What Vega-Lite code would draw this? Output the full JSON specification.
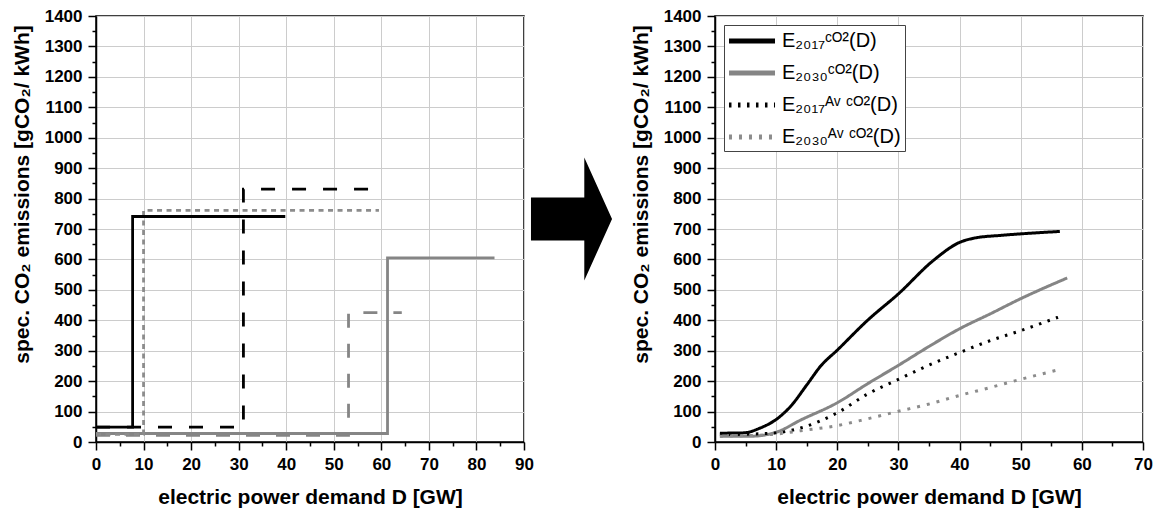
{
  "$schema": "https://vega.github.io/schema/vega-lite/v6.json",
  "padding": {"left": 10, "top": 6, "right": 0, "bottom": 0},
  "background": "white",
  "bounds": "flush",
  "spacing": 0,
  "resolve": {
    "scale": {"color": "independent", "strokeDash": "independent", "x": "independent", "y": "independent"},
    "legend": {"color": "independent", "strokeDash": "independent"}
  },
  "config": {
    "font": "Liberation Sans",
    "view": {"stroke": "black", "strokeWidth": 1.5},
    "axis": {
      "domainColor": "black", "domainWidth": 1.5,
      "tickColor": "black", "tickWidth": 1.5,
      "labelFont": "Liberation Sans", "labelFontWeight": "bold", "labelFontSize": 17, "labelColor": "black",
      "labelPadding": 6, "labelOverlap": false, "labelFlush": false,
      "titleFont": "Liberation Sans", "titleFontWeight": "bold", "titleFontSize": 21, "titleColor": "black",
      "gridColor": "#cccccc", "gridWidth": 1
    },
    "legend": {
      "labelFont": "Liberation Sans", "labelFontSize": 20, "labelColor": "black"
    }
  },
  "datasets": {
    "steps": [
      {"series": "s4", "i": 0, "D": 0, "E": 28},
      {"series": "s4", "i": 1, "D": 61.3, "E": 28},
      {"series": "s4", "i": 2, "D": 61.3, "E": 605},
      {"series": "s4", "i": 3, "D": 83.8, "E": 605},
      {"series": "s5", "i": 0, "D": 0, "E": 22},
      {"series": "s5", "i": 1, "D": 53.1, "E": 22},
      {"series": "s5", "i": 2, "D": 53.1, "E": 425},
      {"series": "s5", "i": 3, "D": 64.3, "E": 425},
      {"series": "s3", "i": 0, "D": 0, "E": 25},
      {"series": "s3", "i": 1, "D": 10, "E": 25},
      {"series": "s3", "i": 2, "D": 10, "E": 761},
      {"series": "s3", "i": 3, "D": 59.5, "E": 761},
      {"series": "s2", "i": 0, "D": 0, "E": 49},
      {"series": "s2", "i": 1, "D": 31, "E": 49},
      {"series": "s2", "i": 2, "D": 31, "E": 831},
      {"series": "s2", "i": 3, "D": 59.5, "E": 831},
      {"series": "s1", "i": 0, "D": 0, "E": 49},
      {"series": "s1", "i": 1, "D": 7.7, "E": 49},
      {"series": "s1", "i": 2, "D": 7.7, "E": 741},
      {"series": "s1", "i": 3, "D": 39.8, "E": 741}
    ],
    "curves": [
      {"series": "E₂₀₁₇ᶜᴼ²(D)", "D": 0.8, "E": 29},
      {"series": "E₂₀₁₇ᶜᴼ²(D)", "D": 4.7, "E": 30},
      {"series": "E₂₀₁₇ᶜᴼ²(D)", "D": 7.4, "E": 46},
      {"series": "E₂₀₁₇ᶜᴼ²(D)", "D": 10, "E": 74},
      {"series": "E₂₀₁₇ᶜᴼ²(D)", "D": 12.4, "E": 118},
      {"series": "E₂₀₁₇ᶜᴼ²(D)", "D": 15.1, "E": 190},
      {"series": "E₂₀₁₇ᶜᴼ²(D)", "D": 17.3, "E": 250},
      {"series": "E₂₀₁₇ᶜᴼ²(D)", "D": 20, "E": 302},
      {"series": "E₂₀₁₇ᶜᴼ²(D)", "D": 24.9, "E": 399},
      {"series": "E₂₀₁₇ᶜᴼ²(D)", "D": 30, "E": 487},
      {"series": "E₂₀₁₇ᶜᴼ²(D)", "D": 35.8, "E": 598},
      {"series": "E₂₀₁₇ᶜᴼ²(D)", "D": 40, "E": 656},
      {"series": "E₂₀₁₇ᶜᴼ²(D)", "D": 42.4, "E": 670},
      {"series": "E₂₀₁₇ᶜᴼ²(D)", "D": 46.7, "E": 679},
      {"series": "E₂₀₁₇ᶜᴼ²(D)", "D": 50, "E": 684},
      {"series": "E₂₀₁₇ᶜᴼ²(D)", "D": 56.4, "E": 692},
      {"series": "E₂₀₃₀ᶜᴼ²(D)", "D": 0.8, "E": 19},
      {"series": "E₂₀₃₀ᶜᴼ²(D)", "D": 5.8, "E": 19},
      {"series": "E₂₀₃₀ᶜᴼ²(D)", "D": 10, "E": 32},
      {"series": "E₂₀₃₀ᶜᴼ²(D)", "D": 14, "E": 72},
      {"series": "E₂₀₃₀ᶜᴼ²(D)", "D": 20, "E": 129},
      {"series": "E₂₀₃₀ᶜᴼ²(D)", "D": 25, "E": 192},
      {"series": "E₂₀₃₀ᶜᴼ²(D)", "D": 30, "E": 252},
      {"series": "E₂₀₃₀ᶜᴼ²(D)", "D": 35, "E": 314},
      {"series": "E₂₀₃₀ᶜᴼ²(D)", "D": 40, "E": 372},
      {"series": "E₂₀₃₀ᶜᴼ²(D)", "D": 45, "E": 421},
      {"series": "E₂₀₃₀ᶜᴼ²(D)", "D": 50, "E": 471},
      {"series": "E₂₀₃₀ᶜᴼ²(D)", "D": 57.6, "E": 539},
      {"series": "E₂₀₁₇ᴬᵛ ᶜᴼ²(D)", "D": 0.8, "E": 24},
      {"series": "E₂₀₁₇ᴬᵛ ᶜᴼ²(D)", "D": 5.8, "E": 26},
      {"series": "E₂₀₁₇ᴬᵛ ᶜᴼ²(D)", "D": 10, "E": 30},
      {"series": "E₂₀₁₇ᴬᵛ ᶜᴼ²(D)", "D": 14, "E": 46},
      {"series": "E₂₀₁₇ᴬᵛ ᶜᴼ²(D)", "D": 20, "E": 96},
      {"series": "E₂₀₁₇ᴬᵛ ᶜᴼ²(D)", "D": 24.9, "E": 157},
      {"series": "E₂₀₁₇ᴬᵛ ᶜᴼ²(D)", "D": 30, "E": 206},
      {"series": "E₂₀₁₇ᴬᵛ ᶜᴼ²(D)", "D": 34.7, "E": 250},
      {"series": "E₂₀₁₇ᴬᵛ ᶜᴼ²(D)", "D": 40, "E": 294},
      {"series": "E₂₀₁₇ᴬᵛ ᶜᴼ²(D)", "D": 45, "E": 333},
      {"series": "E₂₀₁₇ᴬᵛ ᶜᴼ²(D)", "D": 50, "E": 366},
      {"series": "E₂₀₁₇ᴬᵛ ᶜᴼ²(D)", "D": 56.1, "E": 410},
      {"series": "E₂₀₃₀ᴬᵛ ᶜᴼ²(D)", "D": 0.8, "E": 19},
      {"series": "E₂₀₃₀ᴬᵛ ᶜᴼ²(D)", "D": 5.8, "E": 21},
      {"series": "E₂₀₃₀ᴬᵛ ᶜᴼ²(D)", "D": 10, "E": 26},
      {"series": "E₂₀₃₀ᴬᵛ ᶜᴼ²(D)", "D": 14, "E": 37},
      {"series": "E₂₀₃₀ᴬᵛ ᶜᴼ²(D)", "D": 20, "E": 54},
      {"series": "E₂₀₃₀ᴬᵛ ᶜᴼ²(D)", "D": 24.9, "E": 76},
      {"series": "E₂₀₃₀ᴬᵛ ᶜᴼ²(D)", "D": 30, "E": 101},
      {"series": "E₂₀₃₀ᴬᵛ ᶜᴼ²(D)", "D": 34.7, "E": 123},
      {"series": "E₂₀₃₀ᴬᵛ ᶜᴼ²(D)", "D": 40, "E": 153},
      {"series": "E₂₀₃₀ᴬᵛ ᶜᴼ²(D)", "D": 45, "E": 179},
      {"series": "E₂₀₃₀ᴬᵛ ᶜᴼ²(D)", "D": 50, "E": 206},
      {"series": "E₂₀₃₀ᴬᵛ ᶜᴼ²(D)", "D": 56.5, "E": 239}
    ],
    "arrow": [{"ax": 0.2487, "ay": 0.5235}]
  },
  "hconcat": [
    {
      "width": 428,
      "height": 426,
      "data": {"name": "steps"},
      "mark": {"type": "line", "strokeWidth": 2.8, "clip": true},
      "encoding": {
        "x": {
          "field": "D", "type": "quantitative",
          "scale": {"domain": [0, 90], "nice": false, "zero": false},
          "axis": {
            "title": "electric power demand D [GW]",
            "values": [0,5,10,15,20,25,30,35,40,45,50,55,60,65,70,75,80,85,90],
            "format": "d",
            "labelExpr": "datum.value % 10 === 0 ? datum.label : ''",
            "tickSize": {"condition": {"test": "datum.value % 10 === 0", "value": 8}, "value": 4},
            "gridOpacity": {"condition": {"test": "datum.value % 10 === 0", "value": 1}, "value": 0},
            "titlePadding": 14
          }
        },
        "y": {
          "field": "E", "type": "quantitative",
          "scale": {"domain": [0, 1400], "nice": false},
          "axis": {
            "title": "spec. CO₂ emissions [gCO₂/ kWh]",
            "values": [0,50,100,150,200,250,300,350,400,450,500,550,600,650,700,750,800,850,900,950,1000,1050,1100,1150,1200,1250,1300,1350,1400],
            "format": "d",
            "labelExpr": "datum.value % 100 === 0 ? datum.label : ''",
            "tickSize": {"condition": {"test": "datum.value % 100 === 0", "value": 8}, "value": 4},
            "gridOpacity": {"condition": {"test": "datum.value % 100 === 0", "value": 1}, "value": 0},
            "titlePadding": 12,
            "titleY": 178
          }
        },
        "color": {
          "field": "series", "type": "nominal",
          "scale": {"domain": ["s1","s2","s3","s4","s5"], "range": ["black","black","#8c8c8c","#858585","#858585"]},
          "legend": null
        },
        "strokeDash": {
          "field": "series", "type": "nominal",
          "scale": {"domain": ["s1","s2","s3","s4","s5"], "range": [[1,0],[14,17],[5,4.5],[1,0],[14,16]]},
          "legend": null
        },
        "order": {"field": "i", "type": "quantitative"}
      }
    },
    {
      "width": 191,
      "height": 426,
      "view": {"stroke": null},
      "data": {"name": "arrow"},
      "mark": {
        "type": "point", "filled": true, "color": "black", "opacity": 1, "size": 15129,
        "shape": "M-0.659,-0.35L0.208,-0.35L0.208,-1L0.659,0L0.208,1L0.208,0.35L-0.659,0.35Z"
      },
      "encoding": {
        "x": {"field": "ax", "type": "quantitative", "scale": {"domain": [0, 1], "nice": false}, "axis": null},
        "y": {"field": "ay", "type": "quantitative", "scale": {"domain": [0, 1], "nice": false}, "axis": null}
      }
    },
    {
      "width": 428,
      "height": 426,
      "data": {"name": "curves"},
      "mark": {"type": "line", "strokeWidth": 3, "interpolate": "monotone", "clip": true},
      "encoding": {
        "x": {
          "field": "D", "type": "quantitative",
          "scale": {"domain": [0, 70], "nice": false, "zero": false},
          "axis": {
            "title": "electric power demand D [GW]",
            "values": [0,5,10,15,20,25,30,35,40,45,50,55,60,65,70],
            "format": "d",
            "labelExpr": "datum.value % 10 === 0 ? datum.label : ''",
            "tickSize": {"condition": {"test": "datum.value % 10 === 0", "value": 8}, "value": 4},
            "gridOpacity": {"condition": {"test": "datum.value % 10 === 0", "value": 1}, "value": 0},
            "titlePadding": 14
          }
        },
        "y": {
          "field": "E", "type": "quantitative",
          "scale": {"domain": [0, 1400], "nice": false},
          "axis": {
            "title": "spec. CO₂ emissions [gCO₂/ kWh]",
            "values": [0,50,100,150,200,250,300,350,400,450,500,550,600,650,700,750,800,850,900,950,1000,1050,1100,1150,1200,1250,1300,1350,1400],
            "format": "d",
            "labelExpr": "datum.value % 100 === 0 ? datum.label : ''",
            "tickSize": {"condition": {"test": "datum.value % 100 === 0", "value": 8}, "value": 4},
            "gridOpacity": {"condition": {"test": "datum.value % 100 === 0", "value": 1}, "value": 0},
            "titlePadding": 12,
            "titleY": 178
          }
        },
        "color": {
          "field": "series", "type": "nominal",
          "scale": {
            "domain": ["E₂₀₁₇ᶜᴼ²(D)", "E₂₀₃₀ᶜᴼ²(D)", "E₂₀₁₇ᴬᵛ ᶜᴼ²(D)", "E₂₀₃₀ᴬᵛ ᶜᴼ²(D)"],
            "range": ["black", "#858585", "black", "#8c8c8c"]
          },
          "legend": {
            "title": null, "orient": "top-left", "offset": 9,
            "fillColor": "white", "strokeColor": "#444", "padding": 4,
            "symbolType": "M-2.5,0L2.5,0", "symbolSize": 339, "symbolStrokeWidth": 5,
            "symbolOffset": 12, "labelOffset": 18, "rowPadding": 10
          }
        },
        "strokeDash": {
          "field": "series", "type": "nominal",
          "scale": {
            "domain": ["E₂₀₁₇ᶜᴼ²(D)", "E₂₀₃₀ᶜᴼ²(D)", "E₂₀₁₇ᴬᵛ ᶜᴼ²(D)", "E₂₀₃₀ᴬᵛ ᶜᴼ²(D)"],
            "range": [[1,0],[1,0],[2.5,6.5],[3,7]]
          },
          "legend": {
            "title": null, "orient": "top-left", "offset": 9,
            "fillColor": "white", "strokeColor": "#444", "padding": 4,
            "symbolType": "M-2.5,0L2.5,0", "symbolSize": 339, "symbolStrokeWidth": 5,
            "symbolOffset": 12, "labelOffset": 18, "rowPadding": 10
          }
        }
      }
    }
  ]
}
